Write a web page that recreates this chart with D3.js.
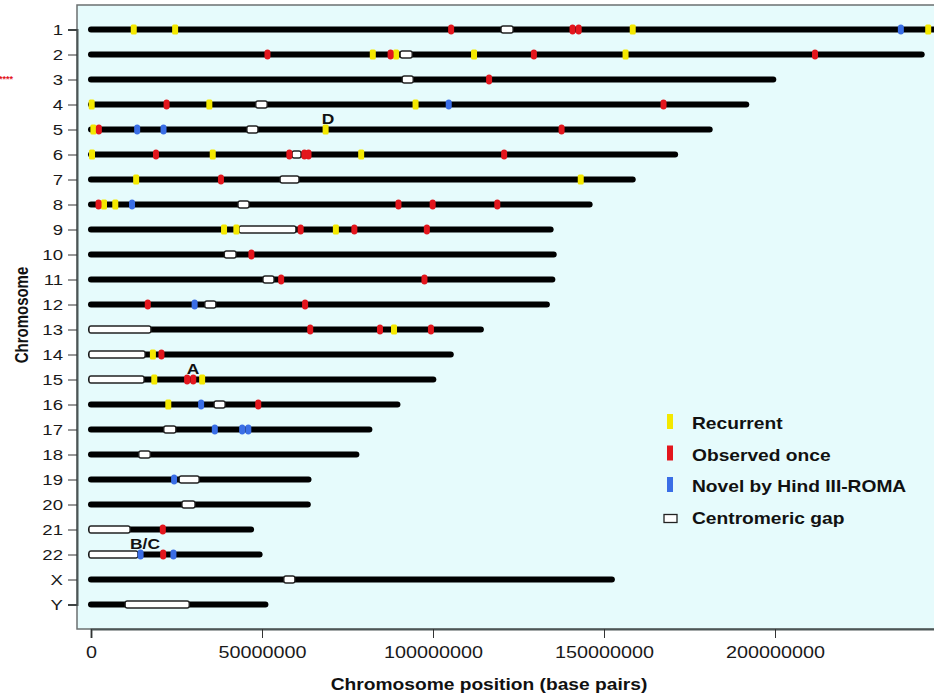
<!DOCTYPE html>
<html>
<head>
<meta charset="utf-8">
<script src="https://cdn.jsdelivr.net/npm/d3@7"></script>
<style>
  body { margin: 0; background: #ffffff; }
  text { font-family: "Liberation Sans", Arial, Helvetica, sans-serif; }
</style>
</head>
<body>
<div id="chart"></div>
<script>
// chromosome names and lengths (Mb)
const chroms = ["1","2","3","4","5","6","7","8","9","10","11","12","13","14","15","16","17","18","19","20","21","22","X","Y"];
const chromLengths = [247.2, 242.9, 199.5, 191.6, 180.9, 170.8, 158.4, 145.8, 134.4, 135.3, 134.9, 133.3, 114.0, 105.2, 100.1, 89.6, 81.4, 77.6, 63.6, 63.4, 46.8, 49.3, 152.3, 51.0];

// centromeric gaps (Mb)
const gapStarts = [119.9, 90.4, 91.0, 48.2, 45.6, 58.8, 55.3, 43.0, 43.3, 39.0, 50.3, 33.3, 0, 0, 0, 36.0, 21.3, 14.0, 25.8, 26.6, 0, 0, 56.4, 10.0];
const gapEnds   = [123.4, 93.9, 94.2, 51.5, 48.8, 61.4, 60.8, 46.2, 59.9, 42.4, 53.5, 36.5, 17.5, 15.8, 15.5, 39.2, 24.8, 17.3, 31.6, 30.4, 11.4, 13.7, 59.6, 28.7];

// markers: [chromosome, position Mb]
const recurrent = [
  ["1", 12.5], ["1", 24.6], ["1", 158.4], ["1", 244.8],
  ["2", 82.4], ["2", 89.2], ["2", 112.0], ["2", 156.3],
  ["4", 0.2], ["4", 34.6], ["4", 94.9],
  ["5", 0.7], ["5", 68.6],
  ["6", 0.3], ["6", 35.6], ["6", 79.0],
  ["7", 13.2], ["7", 143.2],
  ["8", 3.8], ["8", 7.1],
  ["9", 38.9], ["9", 42.5], ["9", 71.6],
  ["13", 88.6],
  ["14", 18.1],
  ["15", 18.5], ["15", 32.5],
  ["16", 22.6]
];
const observedOnce = [
  ["1", 105.3], ["1", 140.8], ["1", 142.6],
  ["2", 51.6], ["2", 87.6], ["2", 129.5], ["2", 211.7],
  ["3", 116.4],
  ["4", 22.1], ["4", 167.4],
  ["5", 2.3], ["5", 137.6],
  ["6", 19.0], ["6", 58.0], ["6", 62.4], ["6", 63.6], ["6", 120.8],
  ["7", 38.0],
  ["8", 2.2], ["8", 89.9], ["8", 99.9], ["8", 118.8],
  ["9", 61.3], ["9", 77.0], ["9", 98.2],
  ["10", 46.9],
  ["11", 55.6], ["11", 97.5],
  ["12", 16.6], ["12", 62.6],
  ["13", 64.1], ["13", 84.5], ["13", 99.4],
  ["14", 20.6],
  ["15", 28.1], ["15", 29.9],
  ["16", 48.9],
  ["21", 21.0],
  ["22", 21.1]
];
const novel = [
  ["1", 236.8],
  ["4", 104.6],
  ["5", 13.5], ["5", 21.2],
  ["8", 12.0],
  ["12", 30.3],
  ["16", 32.2],
  ["17", 36.2], ["17", 44.2], ["17", 46.0],
  ["19", 24.3],
  ["22", 14.5], ["22", 24.1]
];

// letter annotations
const annotLabels = ["D", "A", "B/C"];
const annotChroms = ["5", "15", "22"];
const annotPos = [69.3, 29.8, 15.8];

const xTicks = [0, 50000000, 100000000, 150000000, 200000000];
const legendLabels = ["Recurrent", "Observed once", "Novel by Hind III-ROMA", "Centromeric gap"];
const legendColors = ["#f4e800", "#e3161d", "#3a6ee6", null];

const width = 934, height = 696;
const STRETCH = 1.2; // the figure text is horizontally stretched
const colors = { recurrent: "#f4e800", observed: "#e3161d", novel: "#3a6ee6" };

const svg = d3.select("#chart").append("svg")
  .attr("width", width)
  .attr("height", height);

const panel = { left: 77, top: 5, bottom: 629 };

const x = d3.scaleLinear().domain([0, 250000000]).range([91, 946]);
const y = d3.scalePoint().domain(chroms).range([29.5, 604.5]);
const bp = mb => mb * 1e6;

// panel background
svg.append("rect")
  .attr("x", panel.left)
  .attr("y", panel.top)
  .attr("width", width - panel.left + 10)
  .attr("height", panel.bottom - panel.top)
  .attr("fill", "#e6fbfc")
  .attr("stroke", "#6b7070")
  .attr("stroke-width", 1.5);

// axes
const xAxis = d3.axisBottom(x).tickValues(xTicks).tickSize(9).tickPadding(8)
  .tickFormat(d => String(d));
const gx = svg.append("g")
  .attr("transform", "translate(0," + panel.bottom + ")")
  .call(xAxis);
gx.select(".domain").attr("stroke", "#4c5656").attr("stroke-width", 2);
gx.selectAll(".tick line").attr("stroke", "#333").attr("stroke-width", 1);
gx.selectAll(".tick text")
  .attr("font-size", 16.5)
  .attr("fill", "#1a1a1a")
  .attr("dy", "0.71em")
  .attr("transform", "scale(" + STRETCH + ",1)");

const yAxis = d3.axisLeft(y).tickSize(9).tickPadding(5);
const gy = svg.append("g")
  .attr("transform", "translate(" + panel.left + ",0)")
  .call(yAxis);
gy.select(".domain").attr("stroke", "#4c5656").attr("stroke-width", 2);
gy.selectAll(".tick line").attr("stroke", "#333").attr("stroke-width", 1);
gy.selectAll(".tick text")
  .attr("font-size", 15.5)
  .attr("fill", "#1a1a1a")
  .attr("x", -14 / STRETCH)
  .attr("transform", "scale(" + STRETCH + ",1)");

// axis titles
svg.append("text")
  .attr("transform", "translate(489,690) scale(" + STRETCH + ",1)")
  .attr("text-anchor", "middle")
  .attr("font-size", 16)
  .attr("font-weight", "bold")
  .attr("fill", "#111")
  .text("Chromosome position (base pairs)");

svg.append("text")
  .attr("transform", "translate(28,315) scale(" + STRETCH + ",1) rotate(-90)")
  .attr("text-anchor", "middle")
  .attr("font-size", 15)
  .attr("font-weight", "bold")
  .attr("fill", "#111")
  .text("Chromosome");

// stray red asterisks beside chromosome 3
svg.append("text")
  .attr("x", -1)
  .attr("y", 82)
  .attr("font-size", 9)
  .attr("font-weight", "bold")
  .attr("fill", "#e3161d")
  .text("****");

// chromosome bars
svg.append("g").selectAll("line")
  .data(chroms)
  .join("line")
  .attr("x1", x(0))
  .attr("x2", (d, i) => x(bp(chromLengths[i])))
  .attr("y1", d => y(d))
  .attr("y2", d => y(d))
  .attr("stroke", "#000")
  .attr("stroke-width", 6)
  .attr("stroke-linecap", "round");

// centromeric gaps
svg.append("g").selectAll("rect")
  .data(chroms)
  .join("rect")
  .attr("x", (d, i) => x(bp(gapStarts[i])) - (gapStarts[i] === 0 ? 2 : 0))
  .attr("y", d => y(d) - 3.5)
  .attr("width", (d, i) => x(bp(gapEnds[i])) - x(bp(gapStarts[i])) + (gapStarts[i] === 0 ? 2 : 0))
  .attr("height", 7)
  .attr("rx", 2)
  .attr("fill", "#ffffff")
  .attr("stroke", "#222")
  .attr("stroke-width", 1.3);

// markers
function drawMarkers(list, color, rx) {
  svg.append("g").selectAll("rect")
    .data(list)
    .join("rect")
    .attr("x", d => x(bp(d[1])) - 3)
    .attr("y", d => y(d[0]) - 5)
    .attr("width", 6)
    .attr("height", 10)
    .attr("rx", rx)
    .attr("fill", color);
}
drawMarkers(recurrent, colors.recurrent, 1.5);
drawMarkers(observedOnce, colors.observed, 3);
drawMarkers(novel, colors.novel, 3);

// annotations
svg.append("g").selectAll("text")
  .data(annotLabels)
  .join("text")
  .attr("transform", (d, i) => "translate(" + x(bp(annotPos[i])) + "," + (y(annotChroms[i]) - 6) + ") scale(" + STRETCH + ",1)")
  .attr("text-anchor", "middle")
  .attr("font-size", 14.5)
  .attr("font-weight", "bold")
  .attr("fill", "#111")
  .text(d => d);

// legend
const legend = svg.append("g").attr("transform", "translate(663,0)");
const legendY = d3.scaleLinear().domain([0, 3]).range([429, 523.5]);
legendLabels.forEach((label, i) => {
  const by = legendY(i);
  if (legendColors[i]) {
    legend.append("rect")
      .attr("x", 4)
      .attr("y", by - 15)
      .attr("width", 6)
      .attr("height", 15)
      .attr("fill", legendColors[i]);
  } else {
    legend.append("rect")
      .attr("x", 1)
      .attr("y", by - 9)
      .attr("width", 13)
      .attr("height", 8)
      .attr("fill", "#fff")
      .attr("stroke", "#222")
      .attr("stroke-width", 1.3);
  }
  legend.append("text")
    .attr("transform", "translate(29," + by + ") scale(" + STRETCH + ",1)")
    .attr("font-size", 16)
    .attr("font-weight", "bold")
    .attr("fill", "#111")
    .text(label);
});
</script>
</body>
</html>
